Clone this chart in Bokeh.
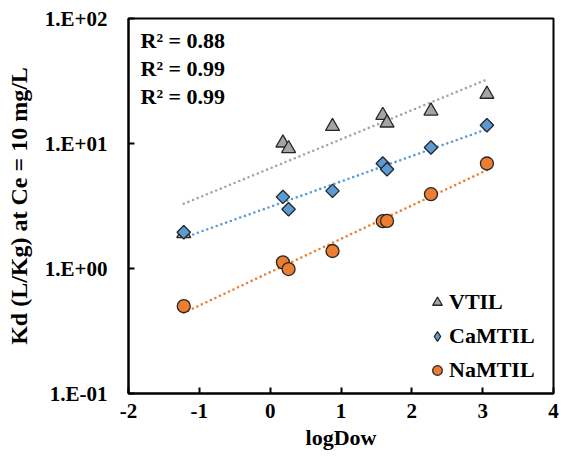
import numpy as np
from bokeh.plotting import figure
from bokeh.models import Legend, LegendItem, Label, FixedTicker, CustomJSTickFormatter
from bokeh.embed import file_html
from bokeh.resources import INLINE

# ---- data ----
logdow = [-1.22, 0.18, 0.26, 0.88, 1.59, 1.65, 2.27, 3.06]
vtil = [1.90, 10.1, 9.1, 13.7, 16.8, 14.6, 18.2, 24.8]
camtil = [1.95, 3.74, 2.98, 4.18, 6.92, 6.22, 9.29, 14.0]
namtil = [0.50, 1.12, 0.99, 1.38, 2.39, 2.40, 3.93, 6.92]
series_names = ["VTIL", "CaMTIL", "NaMTIL"]
r2_labels = ["R\u00b2 = 0.88", "R\u00b2 = 0.99", "R\u00b2 = 0.99"]
x_ticks = [-2, -1, 0, 1, 2, 3, 4]
x_tick_labels = ["-2", "-1", "0", "1", "2", "3", "4"]
y_tick_values = [0.1, 1, 10, 100]
y_tick_labels = ["1.E-01", "1.E+00", "1.E+01", "1.E+02"]

FONT = "Liberation Serif"
colors = ["#A5A5A5", "#5B9BD5", "#ED7D31"]
edge = "#262626"

p = figure(width=561, height=458, output_backend="svg", toolbar_location=None,
           x_range=(-2, 4), y_range=(0.1, 100), y_axis_type="log",
           min_border_left=128, min_border_right=8, min_border_top=18, min_border_bottom=65)
p.background_fill_color = "white"
p.border_fill_color = "white"
p.outline_line_color = "black"
p.outline_line_width = 2
p.xgrid.visible = False
p.ygrid.visible = False

for ax in (p.xaxis[0], p.yaxis[0]):
    ax.axis_line_color = "black"
    ax.axis_line_width = 2
    ax.major_tick_line_color = "black"
    ax.major_tick_line_width = 2
    ax.major_tick_in = 6
    ax.major_tick_out = 0
    ax.minor_tick_line_color = None
    ax.major_label_text_font = FONT
    ax.major_label_text_font_style = "bold"
    ax.major_label_text_font_size = "21px"
    ax.major_label_text_color = "black"
    ax.axis_label_text_font = FONT
    ax.axis_label_text_font_style = "bold"
    ax.axis_label_text_color = "black"

p.xaxis.ticker = FixedTicker(ticks=x_ticks)
p.xaxis.formatter = CustomJSTickFormatter(args=dict(vals=x_ticks, labs=x_tick_labels), code="""
const i = vals.findIndex(v => Math.abs(v - tick) < 1e-9);
return i >= 0 ? labs[i] : "";
""")
p.xaxis.axis_label = "logDow"
p.xaxis.axis_label_text_font_size = "22px"
p.xaxis.major_label_standoff = 10
p.xaxis.axis_label_standoff = 4

p.yaxis.ticker = FixedTicker(ticks=y_tick_values)
p.yaxis.formatter = CustomJSTickFormatter(args=dict(vals=y_tick_values, labs=y_tick_labels), code="""
const i = vals.findIndex(v => Math.abs(Math.log10(v) - Math.log10(tick)) < 1e-6);
return i >= 0 ? labs[i] : "";
""")
p.yaxis.axis_label = "Kd (L/Kg) at Ce = 10 mg/L"
p.yaxis.axis_label_text_font_size = "24px"
p.yaxis.major_label_standoff = 21
p.yaxis.axis_label_standoff = 10

xs = np.array(logdow)
all_y = [vtil, camtil, namtil]

# trendlines (exponential fit -> straight on log axis)
for ys, c in zip(all_y, colors):
    k, b = np.polyfit(xs, np.log10(np.array(ys)), 1)
    xe = np.array([xs.min(), xs.max()])
    p.line(xe, 10 ** (k * xe + b), line_color=c, line_width=2.6, line_dash="0 5", line_cap="round")

r_v = p.scatter(logdow, vtil, marker="triangle", size=14, fill_color=colors[0],
                line_color=edge, line_width=1.3)
# diamond swatch renderer (drawn underneath the rotated squares) for the legend
r_c_leg = p.scatter(logdow, camtil, marker="diamond", size=10, fill_color=colors[1],
                    line_color=edge, line_width=1.3)
r_c = p.scatter(logdow, camtil, marker="square", angle=np.pi / 4, size=9.5, fill_color=colors[1],
                line_color=edge, line_width=1.3)
r_n = p.scatter(logdow, namtil, marker="circle", size=13, fill_color=colors[2],
                line_color=edge, line_width=1.3)

legend = Legend(items=[LegendItem(label=series_names[0], renderers=[r_v]),
                       LegendItem(label=series_names[1], renderers=[r_c_leg]),
                       LegendItem(label=series_names[2], renderers=[r_n])],
                location=(297, 10), orientation="vertical",
                glyph_width=24, glyph_height=24, label_height=24, spacing=8,
                label_standoff=0, padding=0, margin=0,
                border_line_color=None, background_fill_alpha=0,
                label_text_font=FONT, label_text_font_style="bold",
                label_text_font_size="22px", label_text_color="black")
p.add_layout(legend)

r2_y = [66.7, 39.5, 23.7]
for txt, yy in zip(r2_labels, r2_y):
    p.add_layout(Label(x=-1.83, y=yy, text=txt, text_font=FONT, text_font_style="bold",
                       text_font_size="22px", text_baseline="middle", text_color="black"))

open("out.html", "w").write(file_html(p, INLINE))
